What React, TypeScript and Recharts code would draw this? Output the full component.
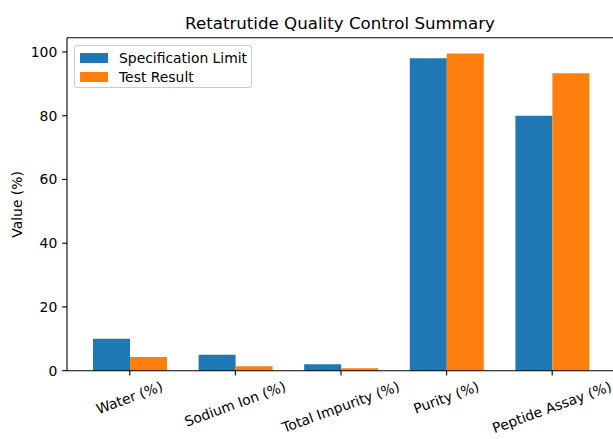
import React from 'react';
import { BarChart, Bar, XAxis, YAxis, Legend, ReferenceLine } from 'recharts';

const categories = ['Water (%)', 'Sodium Ion (%)', 'Total Impurity (%)', 'Purity (%)', 'Peptide Assay (%)'];
const specLimit = [10, 5, 2, 98, 80];
const testResult = [4.3, 1.4, 0.8, 99.5, 93.3];
const yTicks = [0, 20, 40, 60, 80, 100];

const seriesNames = ['Specification Limit', 'Test Result'];
const seriesColors = ['#1f77b4', '#ff7f0e'];

const data = categories.map((name, i) => ({ name, spec: specLimit[i], test: testResult[i] }));
const yMax = Math.max(...specLimit, ...testResult) * 1.05;

const FONT = "'DejaVu Sans', sans-serif";
const FS = 13.9;
const ANGLE = 20;

let ctx: CanvasRenderingContext2D | null = null;
function textWidth(s: string) {
  if (!ctx) ctx = document.createElement('canvas').getContext('2d');
  if (!ctx) return s.length * FS * 0.55;
  ctx.font = `${FS}px 'DejaVu Sans'`;
  return ctx.measureText(s).width;
}

// matplotlib-style rotated label: rotated bbox centred on the tick, top at y
function RotatedTick({ x, y, payload }: any) {
  const rad = (ANGLE * Math.PI) / 180;
  const w = textWidth(payload.value);
  const h = FS * 0.97;
  const cy = y + (w * Math.sin(rad) + h * Math.cos(rad)) / 2;
  return (
    <text
      x={x}
      y={cy}
      dy="0.28em"
      textAnchor="middle"
      transform={`rotate(-${ANGLE}, ${x}, ${cy})`}
      fill="#000"
      fontSize={FS}
      fontFamily={FONT}
    >
      {payload.value}
    </text>
  );
}

function LegendBox() {
  return (
    <div
      style={{
        width: 176,
        height: 41,
        border: '1px solid #cccccc',
        borderRadius: 3,
        background: 'rgba(255,255,255,0.8)',
        fontFamily: FONT,
        fontSize: FS,
        color: '#000',
        position: 'relative',
      }}
    >
      {seriesNames.map((name, i) => (
        <div key={name} style={{ position: 'absolute', left: 0, top: 2.5 + i * 19, height: 18, width: 176 }}>
          <div style={{ position: 'absolute', left: 5, top: 4.5, width: 28, height: 9.5, background: seriesColors[i] }} />
          <div style={{ position: 'absolute', left: 44, top: 0, lineHeight: '18px', whiteSpace: 'nowrap' }}>{name}</div>
        </div>
      ))}
    </div>
  );
}

export default function App() {
  return (
    <div style={{ position: 'fixed', left: 0, top: 0, width: 613, height: 439, background: '#fff' }}>
      <BarChart
        width={613}
        height={439}
        data={data}
        margin={{ top: 37.7, right: 0, bottom: 0, left: 0 }}
        barGap={0}
      >
        <XAxis
          dataKey="name"
          height={68.3}
          padding={{ left: 10, right: 8 }}
          interval={0}
          tick={<RotatedTick />}
          tickSize={4.86}
          tickMargin={4.86}
          axisLine={{ stroke: '#000', strokeWidth: 1.1 }}
          tickLine={{ stroke: '#000', strokeWidth: 1.1 }}
        />
        <YAxis
          width={67}
          domain={[0, yMax]}
          ticks={yTicks}
          tickSize={4.86}
          tickMargin={4.86}
          tick={{ fill: '#000', fontSize: FS, fontFamily: FONT }}
          axisLine={{ stroke: '#000', strokeWidth: 1.1 }}
          tickLine={{ stroke: '#000', strokeWidth: 1.1 }}
        />
        <ReferenceLine y={yMax} stroke="#000" strokeWidth={1.1} />
        <Legend
          layout="vertical"
          align="center"
          verticalAlign="middle"
          wrapperStyle={{ position: 'absolute', left: 74, top: 45, width: 178, height: 43 }}
          content={<LegendBox />}
        />
        <Bar dataKey="spec" name={seriesNames[0]} fill={seriesColors[0]} barSize={37} isAnimationActive={false} />
        <Bar dataKey="test" name={seriesNames[1]} fill={seriesColors[1]} barSize={37} isAnimationActive={false} />
      </BarChart>
      <svg width={613} height={439} style={{ position: 'absolute', left: 0, top: 0, pointerEvents: 'none' }}>
        <text x={340} y={29.4} textAnchor="middle" fontSize={16.67} fontFamily={FONT} fill="#000">
          Retatrutide Quality Control Summary
        </text>
        <text
          x={21.9}
          y={204.4}
          textAnchor="middle"
          transform="rotate(-90, 21.9, 204.4)"
          fontSize={FS}
          fontFamily={FONT}
          fill="#000"
        >
          Value (%)
        </text>
      </svg>
    </div>
  );
}
